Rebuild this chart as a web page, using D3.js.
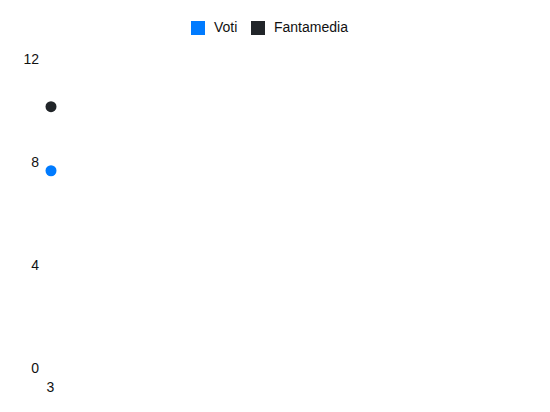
<!DOCTYPE html>
<html>
<head>
<meta charset="utf-8">
<script src="https://cdn.jsdelivr.net/npm/d3@7"></script>
<style>
  body { margin: 0; background: #fff; }
  svg { display: block; font-family: "Liberation Sans", Arial, Helvetica, sans-serif; }
</style>
</head>
<body>
<svg id="chart"></svg>
<script>
// chart data
var giornate = ["3"];
var voti = [7.66];
var fantamedia = [10.15];
var yTicks = [0, 4, 8, 12];

var seriesNames = ["Voti", "Fantamedia"];
var seriesColors = ["#007bff", "#212529"];

var width = 550;
var height = 412;

var svg = d3.select("#chart")
    .attr("width", width)
    .attr("height", height);

var xScale = d3.scalePoint()
    .domain(giornate)
    .range([51, 540])
    .align(0);

var yScale = d3.scaleLinear()
    .domain([0, 12])
    .range([368, 59]);

// y axis, no lines, only labels
var yAxis = svg.append("g")
    .attr("transform", "translate(51,0)")
    .call(d3.axisLeft(yScale).tickValues(yTicks).tickSize(0).tickPadding(12));
yAxis.select(".domain").remove();
yAxis.selectAll("text")
    .attr("font-size", 14)
    .attr("font-family", "Liberation Sans, Arial, sans-serif")
    .attr("fill", "#111");

var xAxis = svg.append("g")
    .attr("transform", "translate(-1,368)")
    .call(d3.axisBottom(xScale).tickSize(0).tickPadding(14));
xAxis.select(".domain").remove();
xAxis.selectAll("text")
    .attr("font-size", 14)
    .attr("font-family", "Liberation Sans, Arial, sans-serif")
    .attr("fill", "#111");

// points
var series = [voti, fantamedia];
series.forEach(function(values, s) {
    svg.append("g")
        .selectAll("circle")
        .data(values)
        .join("circle")
        .attr("cx", (d, i) => xScale(giornate[i]))
        .attr("cy", d => yScale(d))
        .attr("r", 5.5)
        .attr("fill", seriesColors[s]);
});

// legend
var legendX = [191, 251];
var legend = svg.append("g");
seriesNames.forEach(function(name, i) {
    legend.append("rect")
        .attr("x", legendX[i])
        .attr("y", 21)
        .attr("width", 14)
        .attr("height", 14)
        .attr("fill", seriesColors[i]);
    legend.append("text")
        .attr("x", legendX[i] + 23)
        .attr("y", 27.5)
        .attr("dy", "0.35em")
        .attr("font-size", 14)
        .attr("fill", "#111")
        .text(name);
});
</script>
</body>
</html>
